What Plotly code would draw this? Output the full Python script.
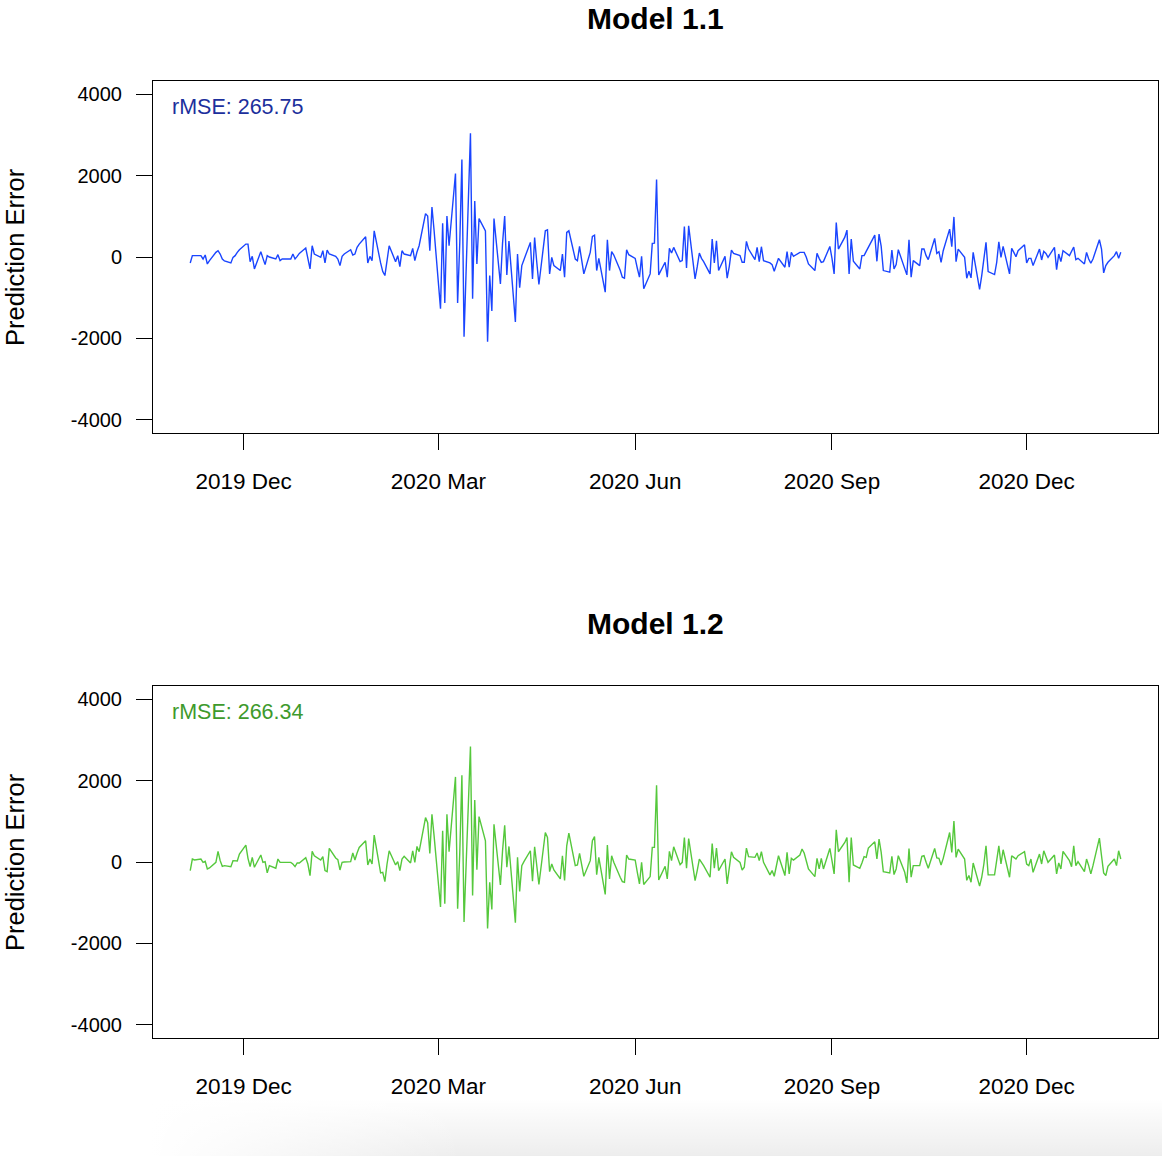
import base64
import pandas as pd
import plotly.graph_objects as go

# Weekday prediction errors for the two models, 2019-11-06 .. 2021-01-14
start_date = "2019-11-06"

model_11_err = [
    # Nov 2019
    -146, 33, 33, 33, -49, 49, -171, -89, 114, 154, 73, -49, -98, -146, -8, 33, 114, 179,
    # Dec 2019
    317, 317, -114, 16, -293, 130, -33, -187, 33, 0, -49, 57, -89, -49, -49, -49, 73, -49, 16, 89,
    220, -89,
    # Jan 2020
    -293, 276, 73, -8, 154, -146, 171, 73, 16, -49, -211, 16, 73, 179, 49, 73, 236, 317, 496, -146,
    16, -89, 642,
    # Feb 2020
    -146, -358, -455, -16, 276, -114, 33, -236, 154, 73, 33, 211, -89, 122, 276, 1065, 1008, 154, 1227, 650,
    # Mar 2020
    -1268, 829, -1130, 1008, 276, 2049, -1130, 333, 2390, -1959, 3040, -1024, 1374, -171, 943, 642, -2081, -455, -1325, 943,
    -659, 341,
    # Apr 2020
    1008, -439, 390, -1593, 73, -756, -211, -65, 358, -537, 480, -130, -675, 642, 667, -415, -8, -211, -333, 73,
    -496, 602,
    # May 2020
    642, -49, -89, 260, -49, -415, 114, 504, 537, -333, -33, -862, 423, -333, 130, 49, -325, -496, -520, 179,
    57,
    # Jun 2020
    -33, -276, -496, 16, -780, -415, 333, 341, 1902, -439, -130, -496, 211, 98, 236, -114, -89, 748, -268, 764,
    -537, -244,
    # Jul 2020
    98, -33, -114, -415, 439, -146, 398, -333, 16, -520, -228, 171, 89, 33, -130, -130, 382, 195, -65, 236,
    -114, 252, -89,
    # Aug 2020
    -146, -187, -350, -187, -33, -252, 130, -252, 114, 16, 114, 114, 114, -8, -171, -333, 89, -33, -130, -114,
    260,
    # Sep 2020
    -33, -415, 846, 195, 488, 659, -415, 439, -106, -293, 33, 33, 138, 236, 537, -106, 561, 260, -333, -374,
    171, -293,
    # Oct 2020
    -187, 179, -317, -439, 423, -496, -89, -211, 195, 195, 33, -65, 455, 89, 130, -130, 154, 683, 252, 984,
    -114, 195,
    # Nov 2020
    -8, -520, -350, -512, 114, -797, -455, -49, 358, -358, -431, -130, 374, -8, 260, -415, 211, 114, 8, 154,
    301,
    # Dec 2020
    -146, -33, -33, -211, 195, -73, 138, 89, -8, 236, -309, 73, -114, 154, 33, 154, 244, -65, -33, -171,
    114, -49, -154,
    # Jan 2021
    -49, 423, 195, -390, -211, -130, 33, 130, -33, 114,
]

model_12_err = [
    # Nov 2019
    -211, 73, 49, 73, -8, 16, -171, -146, -8, 260, 33, -106, -89, -114, 33, 24, 24, 195,
    # Dec 2019
    415, 89, -114, 114, -130, 171, -8, 8, -268, -89, -154, 73, -8, -8, -8, -8, -49, -114, -24, -24,
    106, -49,
    # Jan 2020
    -333, 260, 154, 49, 130, -211, -236, 333, 98, 57, -195, -8, 0, 8, 220, 49, 220, 358, 520, -73,
    73, -49, 659,
    # Feb 2020
    -268, -252, -480, -49, 276, -73, 8, -211, 73, 138, -24, 276, -8, 382, 252, 1089, 967, 211, 1171, 642,
    # Mar 2020
    -1106, 764, -1024, 1171, 252, 2089, -1146, 220, 2130, -1472, 2837, -821, 1520, -187, 1114, 520, -1634, -496, -1163, 927,
    -561, 276,
    # Apr 2020
    902, -130, 382, -1488, 114, -724, -89, 8, 276, -472, 374, -89, -553, 724, 602, -236, -49, -195, -415, 154,
    -455, 398,
    # May 2020
    707, -89, -73, 211, -49, -350, 33, 520, 626, -309, 114, -797, 415, -415, 154, -8, -374, -480, -496, 171,
    73,
    # Jun 2020
    49, -252, -537, -8, -553, -358, 358, 358, 1886, -439, -106, -415, 260, 33, 374, -65, -8, 602, -154, 577,
    -455, -211,
    # Jul 2020
    73, -8, -89, -374, 455, -154, 341, -211, 73, -537, -171, 252, 114, -8, -195, -130, 341, 130, 114, 220,
    33, 252, -8,
    # Aug 2020
    -317, -211, -350, -98, 154, -333, 236, -293, 89, 49, 171, 317, 220, 24, -171, -358, 89, -171, 89, -171,
    333,
    # Sep 2020
    33, -293, 789, 252, 480, 602, -496, 602, -73, -154, -24, 130, 114, 341, 496, 73, 561, 236, -236, -268,
    138, -309,
    # Oct 2020
    -171, 154, -252, -512, 333, -374, -89, -89, 138, 154, -8, -154, 333, 98, 89, -73, 89, 724, 236, 1008,
    114, 317,
    # Nov 2020
    73, -450, -333, -496, -24, -593, -374, -49, 398, -317, -317, -8, 398, -49, 301, -374, 154, 114, 73, 154,
    252,
    # Dec 2020
    -49, -89, 73, -252, 195, -49, 276, 114, -8, 171, -293, -24, -171, 260, 33, -114, 398, -89, 8, -236,
    73, -89, -293,
    # Jan 2021
    -89, 585, 154, -268, -333, -106, 73, -89, 276, 73,
]

model_titles = ["Model 1.1", "Model 1.2"]
rmse_labels = ["rMSE: 265.75", "rMSE: 266.34"]
line_colors = ["#1a45ff", "#55c83c"]
label_colors = ["#1c2f9c", "#3e9a2c"]

x_tick_dates = ["2019-12-01", "2020-03-01", "2020-06-01", "2020-09-01", "2020-12-01"]
x_tick_text = ["2019 Dec", "2020 Mar", "2020 Jun", "2020 Sep", "2020 Dec"]
y_tick_vals = [-4000, -2000, 0, 2000, 4000]
y_tick_text = ["-4000", "-2000", "0", "2000", "4000"]
y_limits = [-4000, 4000]

W, H = 1162, 1156
font_family = "Liberation Sans, Arial, Helvetica, sans-serif"

dates_a = pd.bdate_range(start=start_date, periods=len(model_11_err))
dates_b = pd.bdate_range(start=start_date, periods=len(model_12_err))

# R-style axis expansion (4% on each side)
d0, d1 = dates_a[0], max(dates_a[-1], dates_b[-1])
pad = (d1 - d0) * 0.04
x_range = [d0 - pad, d1 + pad]
y_pad = (y_limits[1] - y_limits[0]) * 0.04
y_range = [y_limits[0] - y_pad, y_limits[1] + y_pad]

# panel placement in pixels: (left, right) and (top, bottom) of each panel
px_left, px_right = 153, 1158
panels_px = [(81, 433), (686, 1038)]

fig = go.Figure()
series = [(dates_a, model_11_err), (dates_b, model_12_err)]

annotations = []
for i, ((top, bot), (dts, vals)) in enumerate(zip(panels_px, series)):
    xa = "x" if i == 0 else f"x{i+1}"
    ya = "y" if i == 0 else f"y{i+1}"
    fig.add_trace(go.Scatter(
        x=dts, y=vals, mode="lines", xaxis=xa, yaxis=ya,
        line=dict(color=line_colors[i], width=1.4), showlegend=False,
        hoverinfo="skip",
    ))
    axis_common = dict(
        showgrid=False, zeroline=False, showline=True, mirror=True,
        linecolor="black", linewidth=1, ticks="outside", ticklen=16,
        tickcolor="black", tickwidth=1,
    )
    fig.layout["xaxis" if i == 0 else f"xaxis{i+1}"] = dict(
        axis_common, domain=[px_left / W, px_right / W], range=x_range,
        anchor=ya, tickmode="array", tickvals=x_tick_dates, ticktext=x_tick_text,
        tickfont=dict(size=22.5, color="black", family=font_family),
        ticklabelstandoff=12,
    )
    fig.layout["yaxis" if i == 0 else f"yaxis{i+1}"] = dict(
        axis_common, domain=[1 - bot / H, 1 - top / H], range=y_range, anchor=xa,
        tickmode="array", tickvals=y_tick_vals, ticktext=y_tick_text,
        tickfont=dict(size=20, color="black", family=font_family),
        ticklabelstandoff=10,
    )
    mid = 1 - (top + bot) / 2 / H
    annotations.append(dict(
        text=f"<b>{model_titles[i]}</b>", x=(px_left + px_right) / 2 / W, y=1 - (top - 63) / H,
        xref="paper", yref="paper", showarrow=False, xanchor="center", yanchor="middle",
        font=dict(size=30, color="black", family=font_family),
    ))
    annotations.append(dict(
        text="Prediction Error", x=15 / W, y=mid, xref="paper", yref="paper",
        showarrow=False, textangle=-90, xanchor="center", yanchor="middle",
        font=dict(size=25.5, color="black", family=font_family),
    ))
    annotations.append(dict(
        text=rmse_labels[i], x=170 / W, y=1 - (top + 26) / H, xref="paper", yref="paper",
        showarrow=False, xanchor="left", yanchor="middle",
        font=dict(size=21.5, color=label_colors[i], family=font_family),
    ))

# soft grey shade along the lower page edge
shade_h = 58
shade_svg = (
    f"<svg xmlns='http://www.w3.org/2000/svg' width='1162' height='{shade_h}'>"
    "<defs>"
    "<linearGradient id='v' x1='0' y1='0' x2='0' y2='1'>"
    "<stop offset='0' stop-color='#000' stop-opacity='0'/>"
    "<stop offset='1' stop-color='#000' stop-opacity='0.07'/></linearGradient>"
    "<linearGradient id='h' x1='0' y1='0' x2='1' y2='0'>"
    "<stop offset='0.13' stop-color='#fff' stop-opacity='1'/>"
    "<stop offset='0.4' stop-color='#fff' stop-opacity='0'/></linearGradient>"
    "</defs>"
    f"<rect width='1162' height='{shade_h}' fill='url(#v)'/>"
    f"<rect width='1162' height='{shade_h}' fill='url(#h)'/>"
    "</svg>"
)
shade_src = "data:image/svg+xml;base64," + base64.b64encode(shade_svg.encode()).decode()

fig.update_layout(
    width=W, height=H, margin=dict(l=0, r=0, t=0, b=0),
    paper_bgcolor="white", plot_bgcolor="white",
    annotations=annotations, font=dict(family=font_family),
    images=[dict(
        source=shade_src, xref="paper", yref="paper", x=0, y=shade_h / H,
        sizex=1, sizey=shade_h / H, sizing="stretch", xanchor="left", yanchor="top",
        layer="below",
    )],
)

fig.write_html("out.html")
